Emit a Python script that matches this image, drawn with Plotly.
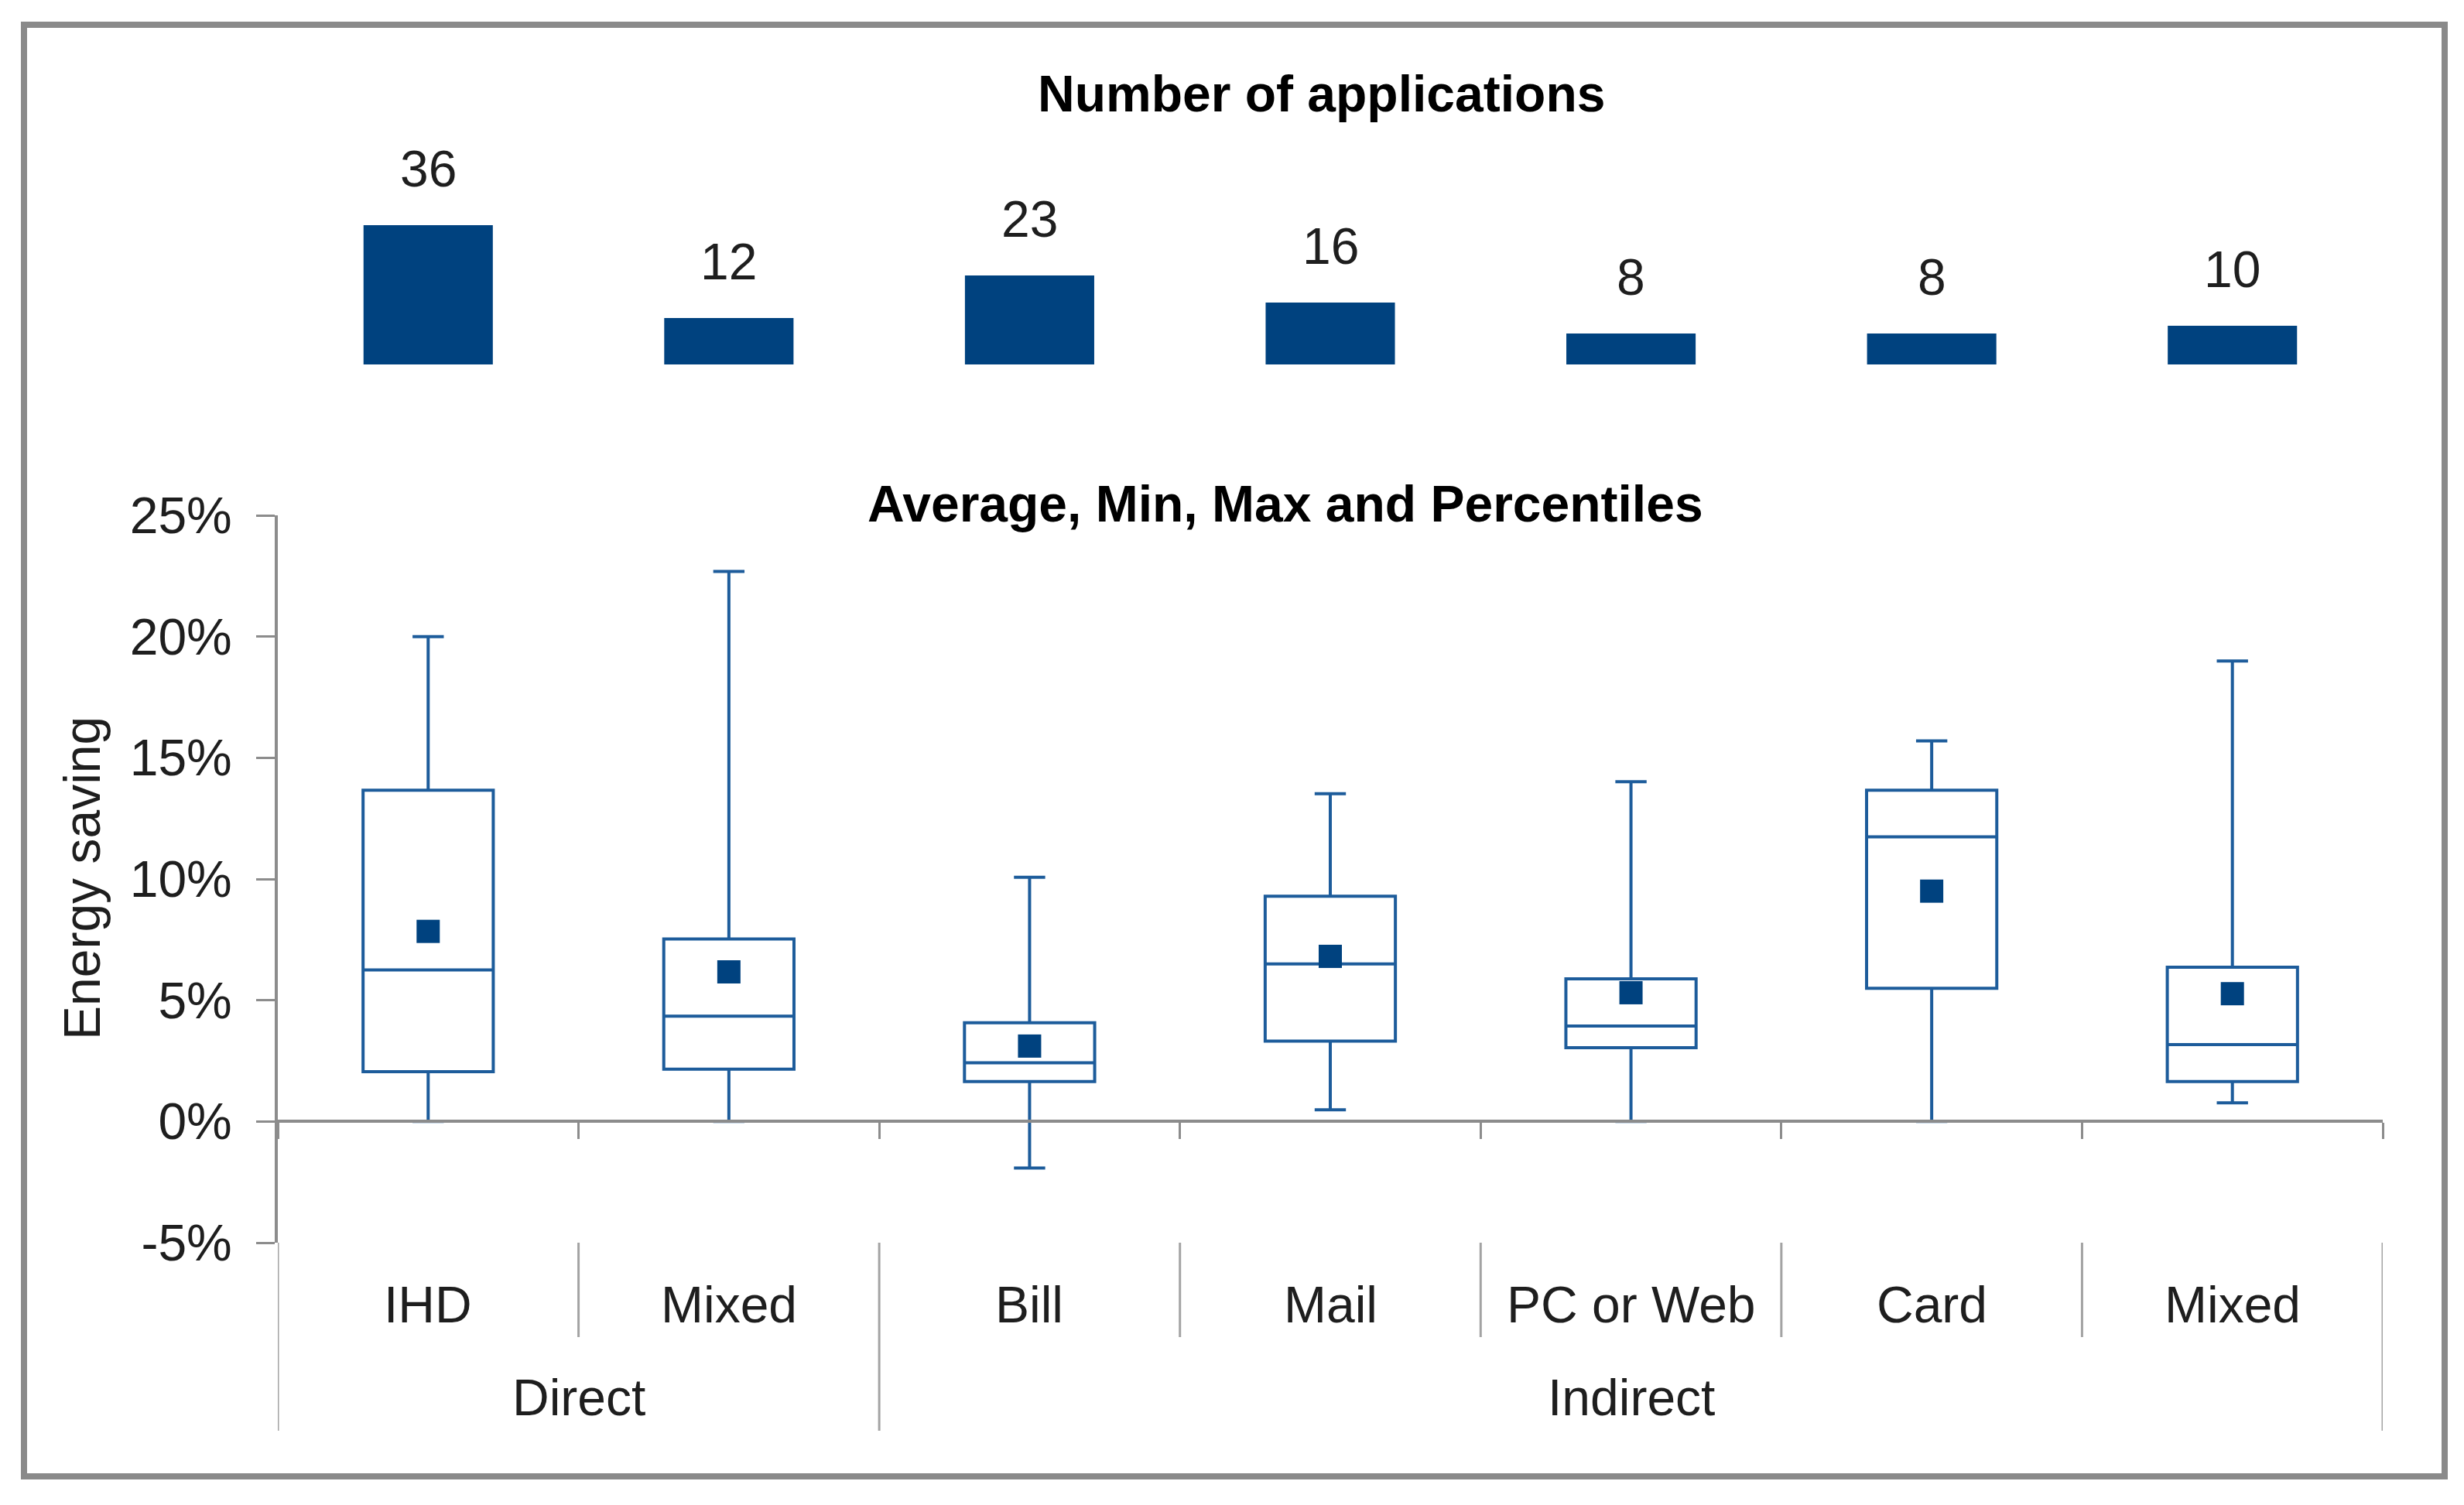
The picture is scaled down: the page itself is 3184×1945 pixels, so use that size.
import plotly.graph_objects as go

W, H = 3184, 1945

# ---------------- data ----------------
groups = ["Direct", "Direct", "Indirect", "Indirect", "Indirect", "Indirect", "Indirect"]
types = ["IHD", "Mixed", "Bill", "Mail", "PC or Web", "Card", "Mixed"]
counts = [36, 12, 23, 16, 8, 8, 10]
p_min = [0.0000, 0.0000, -0.0192, 0.0048, 0.0000, 0.0000, 0.0077]
p_q1 = [0.0205, 0.0216, 0.0165, 0.0331, 0.0304, 0.0549, 0.0165]
p_med = [0.0625, 0.0434, 0.0242, 0.0650, 0.0394, 0.1174, 0.0317]
p_q3 = [0.1366, 0.0753, 0.0407, 0.0929, 0.0588, 0.1366, 0.0636]
p_max = [0.2000, 0.2269, 0.1007, 0.1352, 0.1401, 0.1570, 0.1899]
p_mean = [0.0784, 0.0617, 0.0311, 0.0681, 0.0531, 0.0950, 0.0527]
y_tick_vals = [-0.05, 0.0, 0.05, 0.10, 0.15, 0.20, 0.25]
y_tick_text = ["-5%", "0%", "5%", "10%", "15%", "20%", "25%"]
group_names = ["Direct", "Indirect"]

keys = [g + ": " + t for g, t in zip(groups, types)]
n = len(keys)

# ---------------- style ----------------
FONT = "Liberation Sans, Arial, sans-serif"
TXT = "#1e1e1e"
NAVY = "#00427f"
BOXC = "#1d5c9b"
AX = "#8c8c8c"
SEP = "#a3a3a3"
FS = 66


def px(x):
    return x / W


def py(y):
    return 1 - y / H


x_dom = [px(359), px(3079)]
y_dom = [py(1606), py(666)]
y_rng = [y_tick_vals[0], y_tick_vals[-1]]
zero_pos = y_dom[0] + (0 - y_rng[0]) / (y_rng[1] - y_rng[0]) * (y_dom[1] - y_dom[0])
bar_dom = [py(471), py(271)]

fig = go.Figure()

# counts bars (top panel)
fig.add_trace(go.Bar(
    x=keys, y=counts, xaxis="x3", yaxis="y3",
    marker=dict(color=NAVY, line=dict(width=0)), width=0.43,
    hoverinfo="skip", showlegend=False,
))

# box plots
fig.add_trace(go.Box(
    x=keys, q1=p_q1, median=p_med, q3=p_q3,
    lowerfence=p_min, upperfence=p_max,
    boxpoints=False, width=0.433, whiskerwidth=0.24,
    line=dict(color=BOXC, width=4), fillcolor="rgba(255,255,255,0)",
    hoverinfo="skip", showlegend=False,
))

# mean markers (on overlay linear axis aligned to category positions)
fig.add_trace(go.Scatter(
    x=list(range(n)), y=p_mean, xaxis="x2", yaxis="y",
    mode="markers",
    marker=dict(symbol="square", size=30, color=NAVY, line=dict(width=0)),
    hoverinfo="skip", showlegend=False,
))

annotations = []
# bar value labels
for k, c in zip(keys, counts):
    annotations.append(dict(
        x=k, y=c, xref="x3", yref="y3", text=str(c), showarrow=False,
        yanchor="bottom", xanchor="center", yshift=34,
        font=dict(family=FONT, size=FS, color=TXT),
    ))
# inner category labels
for k, t in zip(keys, types):
    annotations.append(dict(
        x=k, y=py(1686), xref="x", yref="paper", text=t, showarrow=False,
        xanchor="center", yanchor="middle",
        font=dict(family=FONT, size=FS, color=TXT),
    ))
# outer group labels
for gname in group_names:
    idx = [i for i, g in enumerate(groups) if g == gname]
    annotations.append(dict(
        x=(idx[0] + idx[-1]) / 2, y=py(1806), xref="x", yref="paper", text=gname,
        showarrow=False, xanchor="center", yanchor="middle",
        font=dict(family=FONT, size=FS, color=TXT),
    ))
# titles
annotations.append(dict(
    x=px(1707), y=py(121), xref="paper", yref="paper",
    text="<b>Number of applications</b>", showarrow=False,
    xanchor="center", yanchor="middle",
    font=dict(family=FONT, size=FS, color="#000000"),
))
annotations.append(dict(
    x=px(1661), y=py(651), xref="paper", yref="paper",
    text="<b>Average, Min, Max and Percentiles</b>", showarrow=False,
    xanchor="center", yanchor="middle",
    font=dict(family=FONT, size=FS, color="#000000"),
))
annotations.append(dict(
    x=px(106), y=py(1135), xref="paper", yref="paper",
    text="Energy saving", showarrow=False, textangle=-90,
    xanchor="center", yanchor="middle",
    font=dict(family=FONT, size=FS, color=TXT),
))

# separators of the two-level category axis
shapes = []
group_bounds = [-0.5] + [i + 0.5 for i in range(n - 1) if groups[i] != groups[i + 1]] + [n - 0.5]
inner_bounds = [i + 0.5 for i in range(n - 1) if groups[i] == groups[i + 1]]
for b in group_bounds:
    shapes.append(dict(type="line", xref="x", yref="paper", x0=b, x1=b,
                       y0=y_dom[0], y1=py(1849), line=dict(color=SEP, width=3)))
for b in inner_bounds:
    shapes.append(dict(type="line", xref="x", yref="paper", x0=b, x1=b,
                       y0=y_dom[0], y1=py(1728), line=dict(color=SEP, width=3)))
# outer frame
shapes.append(dict(type="rect", xref="paper", yref="paper",
                   x0=px(31), x1=px(3159), y0=py(1908), y1=py(32),
                   line=dict(color="#8a8a8a", width=8), fillcolor="rgba(0,0,0,0)"))

fig.update_layout(
    width=W, height=H, autosize=False,
    margin=dict(l=0, r=0, t=0, b=0, pad=0, autoexpand=False),
    paper_bgcolor="white", plot_bgcolor="rgba(0,0,0,0)",
    showlegend=False, hovermode=False,
    font=dict(family=FONT, size=FS, color=TXT),
    xaxis=dict(
        domain=x_dom, type="category", categoryorder="array", categoryarray=keys,
        range=[-0.5, n - 0.5], showticklabels=False, ticks="", showline=False,
        showgrid=False, zeroline=False, fixedrange=True, automargin=False,
    ),
    xaxis2=dict(
        overlaying="x", anchor="free", position=zero_pos, range=[-0.5, n - 0.5],
        tickmode="array", tickvals=[i - 0.5 for i in range(n + 1)],
        ticks="outside", ticklen=21, tickwidth=3, tickcolor=AX,
        showline=True, linecolor=AX, linewidth=4, showticklabels=False,
        showgrid=False, zeroline=False, fixedrange=True, automargin=False,
    ),
    yaxis=dict(
        domain=y_dom, range=y_rng, tickmode="array", tickvals=y_tick_vals,
        ticktext=y_tick_text, ticks="outside", ticklen=24, tickwidth=3,
        tickcolor=AX, showline=True, linecolor=AX, linewidth=4,
        showgrid=False, zeroline=False, ticklabelstandoff=18,
        tickfont=dict(family=FONT, size=FS, color=TXT), fixedrange=True,
        automargin=False,
    ),
    xaxis3=dict(
        domain=x_dom, anchor="y3", type="category", categoryorder="array",
        categoryarray=keys, range=[-0.5, n - 0.5], showticklabels=False,
        ticks="", showline=False, showgrid=False, zeroline=False, automargin=False,
    ),
    yaxis3=dict(
        domain=bar_dom, anchor="x3", range=[0, 40], showticklabels=False,
        ticks="", showline=False, showgrid=False, zeroline=False, automargin=False,
    ),
    annotations=annotations,
    shapes=shapes,
)

fig.write_html(
    "out.html",
    config={"displayModeBar": False, "responsive": False},
    post_script="document.body.style.margin='0';document.body.style.padding='0';"
                "document.documentElement.style.margin='0';document.body.style.overflow='hidden';",
)
